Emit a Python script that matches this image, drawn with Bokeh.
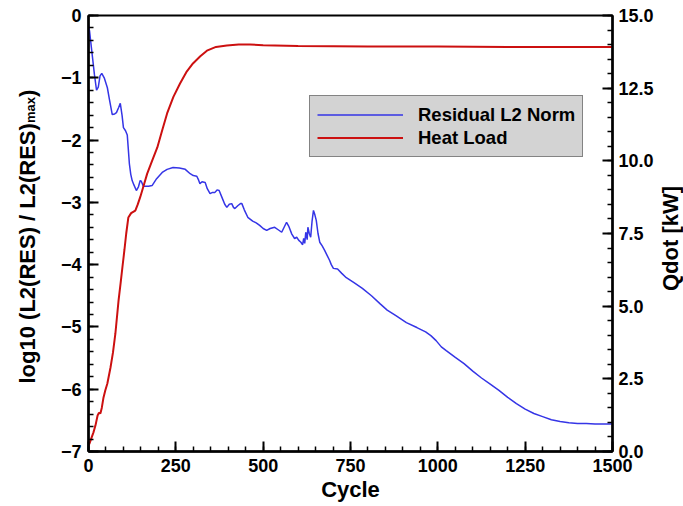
import numpy as np
from bokeh.plotting import figure
from bokeh.layouts import row
from bokeh.models import (Range1d, LinearAxis, FixedTicker, Legend,
                          LegendItem, PrintfTickFormatter)
from bokeh.core.properties import value
from bokeh.embed import file_html
from bokeh.resources import INLINE

# ---------------- data ----------------
cycle_res = [0, 3, 10, 17, 23, 28, 33, 38, 45, 54, 60, 68, 75, 80, 86, 91, 96, 100,
             106, 111, 114, 117, 121, 125, 130, 137, 143, 148, 151, 157, 163, 172,
             182, 195, 211, 225, 242, 260, 277, 291, 300, 310, 315, 319, 325, 334,
             340, 348, 355, 362, 368, 374, 382, 390, 396, 403, 410, 415, 419, 428,
             435, 439, 446, 456, 470, 480, 490, 500, 510, 520, 533, 543, 553, 560,
             567, 573, 582, 590, 596, 602, 608, 613, 616, 619, 622, 626, 628, 632,
             636, 640, 644, 648, 652, 657, 662, 669, 676, 683, 690, 695, 701, 713,
             725, 738, 760, 784, 810, 835, 855, 880, 910, 940, 965, 980, 995, 1010,
             1024, 1050, 1075, 1100, 1125, 1150, 1175, 1200, 1225, 1250, 1275, 1300,
             1325, 1350, 1375, 1400, 1425, 1450, 1475, 1500]
log_res = [-0.15, -0.25, -0.6, -0.95, -1.2, -1.15, -0.97, -0.93, -1.0, -1.16, -1.35,
           -1.59, -1.58, -1.56, -1.48, -1.41, -1.6, -1.8, -1.85, -1.92, -2.15, -2.38,
           -2.55, -2.65, -2.72, -2.81, -2.75, -2.65, -2.66, -2.74, -2.74, -2.74,
           -2.73, -2.62, -2.52, -2.47, -2.44, -2.45, -2.47, -2.54, -2.57, -2.58,
           -2.64, -2.70, -2.67, -2.68, -2.78, -2.86, -2.84, -2.84, -2.80, -2.81,
           -2.92, -3.03, -3.08, -3.03, -3.02, -3.08, -3.10, -3.05, -3.02, -3.02,
           -3.12, -3.24, -3.30, -3.33, -3.37, -3.42, -3.45, -3.42, -3.40, -3.44,
           -3.48, -3.40, -3.32, -3.38, -3.51, -3.58, -3.56, -3.61, -3.64, -3.68,
           -3.58, -3.66, -3.48, -3.60, -3.40, -3.50, -3.56, -3.30, -3.13, -3.20,
           -3.29, -3.50, -3.64, -3.70, -3.77, -3.85, -3.93, -4.00, -4.06, -4.07,
           -4.14, -4.21, -4.29, -4.38, -4.50, -4.63, -4.73, -4.82, -4.93, -5.01,
           -5.08, -5.14, -5.22, -5.32, -5.38, -5.49, -5.59, -5.71, -5.82, -5.92,
           -6.02, -6.13, -6.23, -6.32, -6.39, -6.44, -6.49, -6.52, -6.54, -6.55,
           -6.55, -6.56, -6.56, -6.56]

cycle_heat = [0, 3, 8, 14, 20, 26, 30, 34, 38, 43, 48, 54, 63, 70, 77, 86, 92, 97,
              103, 108, 114, 122, 134, 141, 148, 158, 168, 182, 197, 211, 225, 243,
              262, 280, 299, 320, 339, 365, 396, 430, 462, 500, 600, 700, 800, 1000,
              1200, 1500]
qdot_kw = [0.2, 0.28, 0.45, 0.65, 0.9, 1.24, 1.33, 1.31, 1.5, 1.86, 2.1, 2.34, 2.89,
           3.4, 4.06, 5.19, 5.8, 6.33, 6.95, 7.5, 8.05, 8.2, 8.29, 8.5, 8.75, 9.15,
           9.56, 10.0, 10.46, 11.05, 11.63, 12.2, 12.66, 13.05, 13.35, 13.6, 13.79,
           13.92, 13.97, 14.0, 14.0, 13.98, 13.95, 13.94, 13.93, 13.93, 13.92, 13.92]

x_ticks = [0, 250, 500, 750, 1000, 1250, 1500]
y_ticks = [-7, -6, -5, -4, -3, -2, -1, 0]
q_ticks = [0.0, 2.5, 5.0, 7.5, 10.0, 12.5, 15.0]

series_names = ["Residual L2 Norm", "Heat Load"]
x_title = "Cycle"
y_title_parts = ["log10 (L2(RES) / L2(RES)", "max", ")"]
q_title = "Qdot [kW]"

FONT = "Liberation Sans"
H = 506
TOP, BOTTOM = 15, 55
LEFT_W, RIGHT_W = 45, 27
MAIN_W = 683 - LEFT_W - RIGHT_W

# ---------------- main figure ----------------
p = figure(width=MAIN_W, height=H, output_backend="svg", toolbar_location=None,
           x_range=Range1d(0, 1500), y_range=Range1d(-7, 0), title=None,
           min_border_left=88 - LEFT_W, min_border_right=MAIN_W - (88 - LEFT_W) - 526,
           min_border_top=TOP, min_border_bottom=BOTTOM)
p.extra_y_ranges = {"q": Range1d(0, 15)}
p.xgrid.visible = False
p.ygrid.visible = False
p.outline_line_color = "black"
p.outline_line_width = 2
p.outline_line_alpha = 1
p.background_fill_color = "white"
p.border_fill_color = "white"


def style_axis(ax):
    ax.axis_line_width = 2.5
    ax.axis_line_color = "black"
    ax.major_tick_in = 10
    ax.major_tick_out = 0
    ax.minor_tick_in = 5
    ax.minor_tick_out = 0
    ax.major_tick_line_width = 2
    ax.minor_tick_line_width = 1.5
    ax.major_tick_line_color = "black"
    ax.minor_tick_line_color = "black"
    ax.major_label_text_font = FONT
    ax.major_label_text_font_style = "bold"
    ax.major_label_text_font_size = "18px"
    ax.major_label_text_color = "black"
    ax.major_label_standoff = 7


xa = p.xaxis[0]
xa.ticker = FixedTicker(ticks=x_ticks, minor_ticks=list(np.arange(0, 1501, 50)))
xa.axis_label = x_title
xa.axis_label_text_font = FONT
xa.axis_label_text_font_style = "bold"
xa.axis_label_text_font_size = "22px"
xa.axis_label_text_color = "black"
style_axis(xa)
xa.axis_label_standoff = 2

ya = p.yaxis[0]
ya.ticker = FixedTicker(ticks=y_ticks, minor_ticks=list(np.round(np.arange(-7, 0.001, 0.2), 3)))
ya.axis_label = None
style_axis(ya)

ra = LinearAxis(y_range_name="q",
                ticker=FixedTicker(ticks=q_ticks, minor_ticks=list(np.arange(0, 15.01, 0.5))),
                formatter=PrintfTickFormatter(format="%.1f"))
style_axis(ra)
ra.major_label_standoff = 6
p.add_layout(ra, "right")

r_res = p.line(cycle_res, log_res, line_color="#3535e6", line_width=1.5)
r_heat = p.line(cycle_heat, qdot_kw, line_color="#cc1010", line_width=2, y_range_name="q")

legend = Legend(items=[LegendItem(label=series_names[0], renderers=[r_res]),
                       LegendItem(label=series_names[1], renderers=[r_heat])],
                location=(221, 294))
legend.background_fill_color = "#d3d3d3"
legend.background_fill_alpha = 1
legend.border_line_color = "#333333"
legend.border_line_width = 1
legend.label_text_font = FONT
legend.label_text_font_style = "bold"
legend.label_text_font_size = "18.5px"
legend.label_text_color = "black"
legend.glyph_width = 86
legend.glyph_height = 23
legend.label_height = 23
legend.label_standoff = 15
legend.padding = 7
legend.spacing = 0
legend.margin = 0
p.add_layout(legend, "center")


# ---------------- side strips holding the vertical axis titles ----------------
# strip coordinates are pixels: x from the strip's left edge, y = H - (pixels from top)
def strip(w):
    f = figure(width=w, height=H, output_backend="svg", toolbar_location=None,
               x_range=Range1d(0, w), y_range=Range1d(H - (H - BOTTOM), H - TOP),
               title=None, x_axis_location=None, y_axis_location=None,
               min_border_left=0, min_border_right=0,
               min_border_top=TOP, min_border_bottom=BOTTOM)
    f.xgrid.visible = False
    f.ygrid.visible = False
    f.outline_line_color = None
    f.background_fill_color = "white"
    f.border_fill_color = "white"
    return f


left = strip(LEFT_W)
left.text(x=[27, 30, 27], y=[H - 383, H - 122.5, H - 96.5], text=y_title_parts,
          angle=np.pi / 2, text_font=value(FONT), text_font_style="bold",
          text_font_size=["22px", "13px", "22px"], text_color="black",
          text_align="left", text_baseline="alphabetic")

right = strip(RIGHT_W)
right.text(x=[677.5 - 8 - (683 - RIGHT_W)], y=[H - 238], text=[q_title],
           angle=np.pi / 2, text_font=value(FONT), text_font_style="bold",
           text_font_size="22px", text_color="black",
           text_align="center", text_baseline="alphabetic")

layout = row(left, p, right, spacing=0)
open("out.html", "w").write(file_html(layout, INLINE))
